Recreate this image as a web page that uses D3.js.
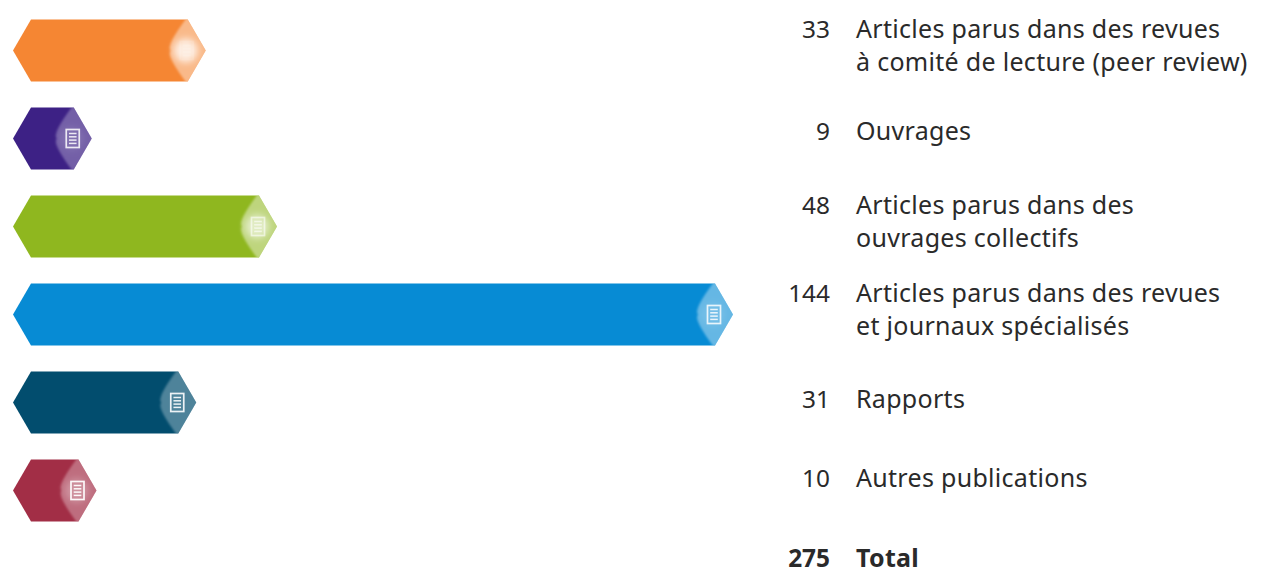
<!DOCTYPE html>
<html><head><meta charset="utf-8">
<script src="https://cdn.jsdelivr.net/npm/d3@7/dist/d3.min.js"></script>
<style>html,body{margin:0;padding:0;background:#fff}svg{display:block}text{font-family:"Noto Sans",sans-serif;font-size:24.4px;fill:#2a2a2a}.name{font-size:25px;letter-spacing:.3px}</style>
</head><body><svg id="c" width="1261" height="570"></svg>
<script>
const categories = [
  ["Articles parus dans des revues","à comité de lecture (peer review)"],
  ["Ouvrages"],
  ["Articles parus dans des","ouvrages collectifs"],
  ["Articles parus dans des revues","et journaux spécialisés"],
  ["Rapports"],
  ["Autres publications"]
];
const values = [33, 9, 48, 144, 31, 10];
const colors = ["#f58633","#3d2185","#8fb71f","#078bd4","#024d6e","#a22e46"];
const iconOpacity = [0.12, 0.85, 0.6, 0.85, 0.9, 0.95];
const glowOpacity = [0.75, 0.1, 0.55, 0.1, 0, 0.25];
const capOpacity = [0.42, 0.28, 0.42, 0.38, 0.3, 0.3];
const totalLabel = "Total";
const totalValue = 275;

const svg = d3.select("#c");
const x = d3.scaleLinear().domain([0,144]).range([49,733]);
const y = d3.scalePoint().domain(d3.range(7)).range([50.5,578.5]);
const labelY = d3.scaleOrdinal().domain(d3.range(7)).range([38,140,214,302,408,487,567]);
const barH = 62, tip = 18, x0 = 13, lineH = 33;

const defs = svg.append("defs");
const blur = defs.append("filter").attr("id","soft").attr("x","-30%").attr("y","-30%").attr("width","160%").attr("height","160%");
blur.append("feGaussianBlur").attr("stdDeviation",1.2);
const blur2 = defs.append("filter").attr("id","glow").attr("x","-60%").attr("y","-60%").attr("width","220%").attr("height","220%");
blur2.append("feGaussianBlur").attr("stdDeviation",3.5);

const hex = (l,r,h)=>{const p=d3.path();p.moveTo(l,0);p.lineTo(l+tip,-h/2);p.lineTo(r-tip,-h/2);p.lineTo(r,0);p.lineTo(r-tip,h/2);p.lineTo(l+tip,h/2);p.closePath();return p.toString();};
const cap = (r,h)=>{const p=d3.path();p.moveTo(r+3,0);p.lineTo(r-tip,-h/2-3);p.quadraticCurveTo(r-40,-5,r-35,0);p.quadraticCurveTo(r-40,5,r-tip,h/2+3);p.closePath();return p.toString();};

values.forEach((d,i)=>defs.append("clipPath").attr("id","clip"+i).append("path").attr("d",hex(x0,x(d),barH)));

const rows = svg.selectAll("g.bar").data(values).join("g").attr("class","bar")
  .attr("transform",(d,i)=>`translate(0,${y(i)})`);
rows.append("path").attr("d",d=>hex(x0,x(d),barH)).attr("fill",(d,i)=>colors[i]);
const inner = rows.append("g").attr("clip-path",(d,i)=>`url(#clip${i})`);
inner.append("path").attr("d",d=>cap(x(d),barH)).attr("fill","#fff").attr("fill-opacity",(d,i)=>capOpacity[i]).attr("filter","url(#soft)");
inner.append("circle").attr("cx",d=>x(d)-20).attr("r",12).attr("fill","#fff").attr("fill-opacity",(d,i)=>glowOpacity[i]).attr("filter","url(#glow)");

const icon = rows.append("g").attr("transform",d=>`translate(${x(d)-19},0)`).attr("opacity",(d,i)=>iconOpacity[i]);
icon.append("rect").attr("x",-6.5).attr("y",-9).attr("width",13).attr("height",18).attr("fill","none").attr("stroke","#fff").attr("stroke-width",1.7);
icon.selectAll("line").data([-5,-1.7,1.6,4.9]).join("line").attr("x1",-3.8).attr("x2",3.8).attr("y1",d=>d).attr("y2",d=>d).attr("stroke","#fff").attr("stroke-width",1.5);

const lines = svg.selectAll("g.lab").data(categories).join("g").attr("class","lab")
  .attr("transform",(d,i)=>`translate(0,${labelY(i)})`);
lines.append("text").attr("x",830).attr("text-anchor","end").text((d,i)=>values[i]);
lines.each(function(d){
  const g=d3.select(this);
  d.forEach((t,j)=>g.append("text").attr("class","name").attr("x",856).attr("y",lineH*j).text(t));
});
const t = svg.append("g").attr("transform",`translate(0,${labelY(6)})`);
t.append("text").attr("x",830).attr("text-anchor","end").style("font-weight",700).text(totalValue);
t.append("text").attr("class","name").attr("x",856).style("font-weight",700).text(totalLabel);
</script></body></html>
